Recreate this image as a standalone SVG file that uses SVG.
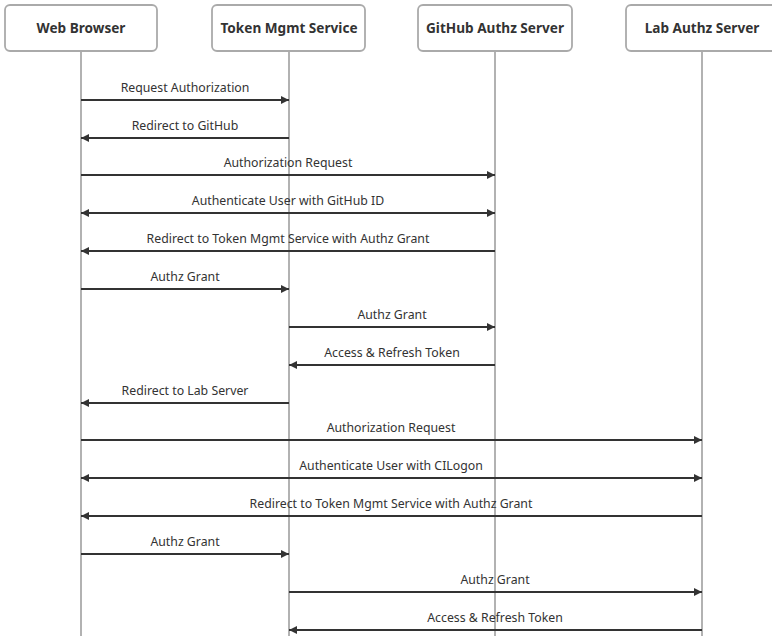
<svg xmlns="http://www.w3.org/2000/svg" width="772" height="636" viewBox="0 0 772 636">
<style>
.box{fill:#fff;stroke:#aaa;stroke-width:1.8}
.life{stroke:#aaa;stroke-width:1.8}
.hdr{font-family:"Noto Sans","Open Sans",sans-serif;font-weight:bold;font-size:13.6px;fill:#333;text-anchor:middle}
.msg{stroke:#333;stroke-width:2;fill:none}
.lbl{font-family:"Noto Sans","Open Sans",sans-serif;font-size:12.3px;fill:#333;text-anchor:middle}
</style>
<defs>
<marker id="ah" viewBox="0 0 8 8" refX="8" refY="4" markerWidth="8" markerHeight="8" markerUnits="userSpaceOnUse" orient="auto-start-reverse">
<path d="M0,0 L8,4 L0,8 Z" fill="#333"/>
</marker>
</defs>
<g id="lifelines">
<line class="life" x1="81" y1="51" x2="81" y2="636"/>
<line class="life" x1="289" y1="51" x2="289" y2="636"/>
<line class="life" x1="495" y1="51" x2="495" y2="636"/>
<line class="life" x1="702" y1="51" x2="702" y2="636"/>
</g>
<g id="web-browser"><rect class="box" x="5" y="5" width="152" height="46" rx="5"/><text class="hdr" x="81" y="33">Web Browser</text></g>
<g id="token-mgmt"><rect class="box" x="212" y="5" width="153" height="46" rx="5"/><text class="hdr" x="289" y="33">Token Mgmt Service</text></g>
<g id="github-authz"><rect class="box" x="418" y="5" width="154" height="46" rx="5"/><text class="hdr" x="495" y="33">GitHub Authz Server</text></g>
<g id="lab-authz"><rect class="box" x="626" y="5" width="153" height="46" rx="5"/><text class="hdr" x="702" y="33">Lab Authz Server</text></g>
<g id="connectors">
<line class="msg" x1="81" y1="100" x2="289" y2="100" marker-end="url(#ah)"/>
<line class="msg" x1="289" y1="138" x2="81" y2="138" marker-end="url(#ah)"/>
<line class="msg" x1="81" y1="175" x2="495" y2="175" marker-end="url(#ah)"/>
<line class="msg" x1="81" y1="213" x2="495" y2="213" marker-start="url(#ah)" marker-end="url(#ah)"/>
<line class="msg" x1="495" y1="251" x2="81" y2="251" marker-end="url(#ah)"/>
<line class="msg" x1="81" y1="289" x2="289" y2="289" marker-end="url(#ah)"/>
<line class="msg" x1="289" y1="327" x2="495" y2="327" marker-end="url(#ah)"/>
<line class="msg" x1="495" y1="365" x2="289" y2="365" marker-end="url(#ah)"/>
<line class="msg" x1="289" y1="403" x2="81" y2="403" marker-end="url(#ah)"/>
<line class="msg" x1="81" y1="440" x2="702" y2="440" marker-end="url(#ah)"/>
<line class="msg" x1="81" y1="478" x2="702" y2="478" marker-start="url(#ah)" marker-end="url(#ah)"/>
<line class="msg" x1="702" y1="516" x2="81" y2="516" marker-end="url(#ah)"/>
<line class="msg" x1="81" y1="554" x2="289" y2="554" marker-end="url(#ah)"/>
<line class="msg" x1="289" y1="592" x2="702" y2="592" marker-end="url(#ah)"/>
<line class="msg" x1="702" y1="630" x2="289" y2="630" marker-end="url(#ah)"/>
</g>
<g id="labels">
<text class="lbl" x="185" y="92">Request Authorization</text>
<text class="lbl" x="185" y="130">Redirect to GitHub</text>
<text class="lbl" x="288" y="167">Authorization Request</text>
<text class="lbl" x="288" y="205">Authenticate User with GitHub ID</text>
<text class="lbl" x="288" y="243">Redirect to Token Mgmt Service with Authz Grant</text>
<text class="lbl" x="185" y="281">Authz Grant</text>
<text class="lbl" x="392" y="319">Authz Grant</text>
<text class="lbl" x="392" y="357">Access &amp; Refresh Token</text>
<text class="lbl" x="185" y="395">Redirect to Lab Server</text>
<text class="lbl" x="391" y="432">Authorization Request</text>
<text class="lbl" x="391" y="470">Authenticate User with CILogon</text>
<text class="lbl" x="391" y="508">Redirect to Token Mgmt Service with Authz Grant</text>
<text class="lbl" x="185" y="546">Authz Grant</text>
<text class="lbl" x="495" y="584">Authz Grant</text>
<text class="lbl" x="495" y="622">Access &amp; Refresh Token</text>
</g>
</svg>
